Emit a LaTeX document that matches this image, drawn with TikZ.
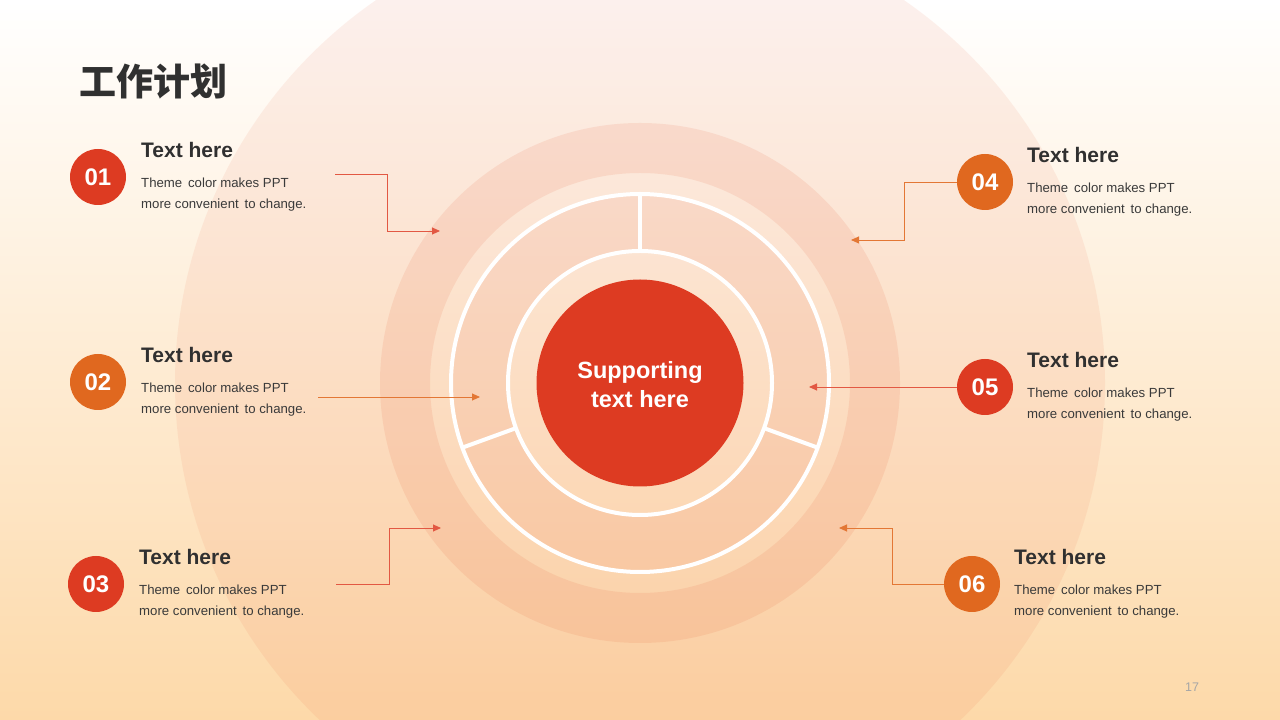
\documentclass[tikz,border=0pt]{standalone}
\usepackage{fontspec}
\setmainfont{Liberation Sans}
\newfontfamily\cjk{Noto Sans CJK SC}
\usetikzlibrary{arrows.meta}
\definecolor{redc}{HTML}{DD3B22}
\definecolor{orgc}{HTML}{E0681F}
\definecolor{bgbot}{HTML}{FDD9A9}
\definecolor{bgmid}{HTML}{FEF0E2}
\definecolor{tint}{HTML}{E8603C}
\definecolor{txt}{HTML}{303030}
\definecolor{bodyc}{HTML}{3A3A3A}
\definecolor{pagec}{HTML}{A6A6A6}
\begin{document}
\begin{tikzpicture}[x=1pt,y=1pt,
  num/.style={circle,minimum size=56pt,inner sep=0pt,text=white,font=\bfseries\fontsize{24}{24}\selectfont},
  head/.style={anchor=base west,inner sep=0pt,text=txt,font=\bfseries\fontsize{21}{24}\selectfont},
  desc/.style={anchor=base west,inner sep=0pt,text=bodyc,font=\fontsize{13.2}{16}\selectfont},
  link/.style={line width=0.9pt,-{Triangle[length=8pt,width=7pt]}},
]
\useasboundingbox (0,0) rectangle (1280,720);
\shade[top color=white, middle color=bgmid, bottom color=bgbot] (0,0) rectangle (1280,720);
\coordinate (C) at (640,337);
\begin{scope}
  \clip (0,0) rectangle (1280,720);
  \fill[tint,opacity=0.09] (C) circle[radius=465pt];
\end{scope}
% outer ring
\fill[tint,opacity=0.12,even odd rule] (C) circle[radius=260pt] (C) circle[radius=210pt];
% segments
\foreach \s/\e in {90/200,-20/90,200/340}{
  \fill[tint,opacity=0.1] ([shift={(\s:189pt)}]C) arc[start angle=\s,end angle=\e,radius=189pt]
    -- ([shift={(\e:132pt)}]C) arc[start angle=\e,end angle=\s,radius=132pt] -- cycle;
}
\draw[white,line width=4pt] (C) circle[radius=189pt];
\draw[white,line width=4pt] (C) circle[radius=132pt];
\foreach \a in {90,-20,200}{
  \draw[white,line width=4pt] ([shift={(\a:132pt)}]C) -- ([shift={(\a:189pt)}]C);
}
% core
\node[circle,fill=redc,minimum size=207pt,inner sep=0pt] (core) at (C) {};
\node[text=white,align=center,inner sep=0pt,
      font=\bfseries\fontsize{23.5}{29}\selectfont] (coretext) at ([yshift=-2pt]core.center) {Supporting\\text here};
% title
\node[anchor=west,inner sep=0pt,text=txt,font=\cjk\bfseries\fontsize{37}{40}\selectfont] (title) at (79,638) {工作计划};
% items
\node[num,fill=redc] (n1) at (98,543) {01};
\node[num,fill=orgc] (n2) at (98,338) {02};
\node[num,fill=redc] (n3) at (96,136) {03};
\node[num,fill=orgc] (n4) at (985,538) {04};
\node[num,fill=redc] (n5) at (985,333) {05};
\node[num,fill=orgc] (n6) at (972,136) {06};

\node[head] (h1) at (141,562) {Text here};
\node[desc] (d1a) at (141,532) {Theme~\,color makes PPT};
\node[desc] (d1b) at (141,511) {more convenient~\,to change.};
\node[head] (h2) at (141,357) {Text here};
\node[desc] (d2a) at (141,327) {Theme~\,color makes PPT};
\node[desc] (d2b) at (141,306) {more convenient~\,to change.};
\node[head] (h3) at (139,155) {Text here};
\node[desc] (d3a) at (139,125) {Theme~\,color makes PPT};
\node[desc] (d3b) at (139,104) {more convenient~\,to change.};
\node[head] (h4) at (1027,557) {Text here};
\node[desc] (d4a) at (1027,527) {Theme~\,color makes PPT};
\node[desc] (d4b) at (1027,506) {more convenient~\,to change.};
\node[head] (h5) at (1027,352) {Text here};
\node[desc] (d5a) at (1027,322) {Theme~\,color makes PPT};
\node[desc] (d5b) at (1027,301) {more convenient~\,to change.};
\node[head] (h6) at (1014,155) {Text here};
\node[desc] (d6a) at (1014,125) {Theme~\,color makes PPT};
\node[desc] (d6b) at (1014,104) {more convenient~\,to change.};

% connectors
\coordinate (s1) at (335,546); \coordinate (b1) at (387,489); \coordinate (e1) at (440,489);
\coordinate (s2) at (318,323); \coordinate (e2) at (480,323);
\coordinate (s3) at (336,136); \coordinate (b3) at (389,192); \coordinate (e3) at (441,192);
\coordinate (b4) at (904,480); \coordinate (e4) at (851,480);
\coordinate (e5) at (809,333);
\coordinate (b6) at (892,192); \coordinate (e6) at (839,192);
\draw[link,redc!85] (s1) -| (b1) -- (e1);
\draw[link,orgc!90] (s2) -- (e2);
\draw[link,redc!85] (s3) -| (b3) -- (e3);
\draw[link,orgc!90] (n4.west) -| (b4) -- (e4);
\draw[link,redc!85] (n5.west) -- (e5);
\draw[link,orgc!90] (n6.west) -| (b6) -- (e6);
% page number
\node[text=pagec,font=\fontsize{12.5}{12.5}\selectfont,inner sep=0pt] (pg) at (1192,33) {17};
\end{tikzpicture}
\end{document}
